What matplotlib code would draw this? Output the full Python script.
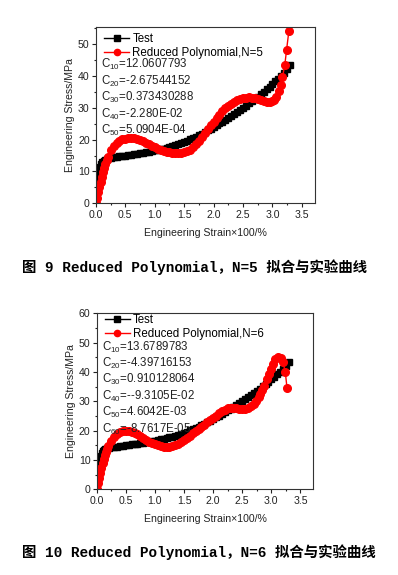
import numpy as np
import matplotlib
matplotlib.use('Agg')
import matplotlib.pyplot as plt
from matplotlib.ticker import AutoMinorLocator, MultipleLocator

# test data (same curve on both figures)
test_x = [0.00, 0.01, 0.02, 0.03, 0.04, 0.05, 0.07, 0.09, 0.11, 0.13, 0.15, 0.18, 0.21, 0.25,
          0.30, 0.35, 0.40, 0.45, 0.50, 0.55, 0.60, 0.65, 0.70, 0.75, 0.80, 0.85, 0.90, 0.95,
          1.00, 1.05, 1.10, 1.15, 1.20, 1.25, 1.30, 1.35, 1.40, 1.45, 1.50, 1.55, 1.60, 1.65,
          1.70, 1.75, 1.80, 1.85, 1.90, 1.95, 2.00, 2.05, 2.10, 2.15, 2.20, 2.25, 2.30, 2.35,
          2.40, 2.45, 2.50, 2.55, 2.60, 2.65, 2.70, 2.75, 2.80, 2.85, 2.90, 2.95, 3.00, 3.05,
          3.10, 3.15, 3.20, 3.25, 3.30]
test_y = [4.3, 5.8, 7.2, 8.4, 9.4, 10.2, 11.4, 12.3, 12.9, 13.4, 13.7, 14.0, 14.2, 14.35,
          14.5, 14.6, 14.75, 14.9, 15.0, 15.15, 15.3, 15.45, 15.6, 15.75, 15.9, 16.05, 16.2, 16.4,
          16.6, 16.8, 17.0, 17.2, 17.45, 17.7, 18.0, 18.3, 18.6, 18.95, 19.3, 19.7, 20.1, 20.5,
          20.95, 21.4, 21.9, 22.4, 22.9, 23.45, 24.0, 24.55, 25.1, 25.7, 26.3, 26.9, 27.5, 28.1,
          28.75, 29.4, 30.05, 30.7, 31.4, 32.1, 32.8, 33.55, 34.3, 35.1, 35.9, 36.7, 37.5, 38.35,
          39.2, 40.1, 41.1, 42.2, 43.4]

# Reduced Polynomial N=5
n5_x = [0.00, 0.02, 0.04, 0.06, 0.08, 0.10, 0.12, 0.14, 0.16, 0.18, 0.20, 0.25, 0.30, 0.35,
        0.40, 0.45, 0.50, 0.55, 0.60, 0.65, 0.70, 0.75, 0.80, 0.85, 0.90, 0.95, 1.00, 1.05,
        1.10, 1.15, 1.20, 1.25, 1.30, 1.35, 1.40, 1.45, 1.50, 1.55, 1.60, 1.65, 1.70, 1.75,
        1.80, 1.85, 1.90, 1.95, 2.00, 2.05, 2.10, 2.15, 2.20, 2.25, 2.30, 2.35, 2.40, 2.45,
        2.50, 2.55, 2.60, 2.65, 2.70, 2.75, 2.80, 2.85, 2.90, 2.95, 2.99, 3.02, 3.06, 3.11,
        3.15, 3.17, 3.21, 3.24, 3.28]
n5_y = [0.0, 1.8, 3.6, 5.2, 6.8, 8.3, 9.8, 11.2, 12.5, 13.7, 14.7, 16.7, 18.0, 19.0,
        19.7, 20.1, 20.35, 20.45, 20.45, 20.4, 20.2, 19.9, 19.5, 19.1, 18.6, 18.1, 17.6, 17.2,
        16.8, 16.45, 16.2, 16.0, 15.85, 15.75, 15.75, 15.85, 16.05, 16.4, 16.9, 17.6, 18.6, 19.7,
        20.8, 22.0, 23.3, 24.5, 25.7, 26.8, 27.9, 28.9, 29.8, 30.6, 31.3, 31.9, 32.4, 32.8,
        33.1, 33.25, 33.3, 33.2, 33.0, 32.7, 32.4, 32.1, 31.95, 31.9, 32.1, 32.6, 33.5, 35.2,
        37.2, 39.6, 43.5, 48.2, 54.3]

# Reduced Polynomial N=6
n6_x = [0.00, 0.02, 0.04, 0.06, 0.08, 0.10, 0.12, 0.14, 0.16, 0.18, 0.20, 0.25, 0.30, 0.35,
        0.40, 0.45, 0.50, 0.55, 0.60, 0.65, 0.70, 0.75, 0.80, 0.85, 0.90, 0.95, 1.00, 1.05,
        1.10, 1.15, 1.20, 1.25, 1.30, 1.35, 1.40, 1.45, 1.50, 1.55, 1.60, 1.65, 1.70, 1.75,
        1.80, 1.85, 1.90, 1.95, 2.00, 2.05, 2.10, 2.15, 2.20, 2.25, 2.30, 2.35, 2.40, 2.45,
        2.50, 2.55, 2.60, 2.65, 2.70, 2.74, 2.78, 2.81, 2.84, 2.87, 2.92, 2.96, 2.99, 3.03,
        3.07, 3.12, 3.16, 3.20, 3.24, 3.27]
n6_y = [0.0, 2.0, 3.8, 5.6, 7.3, 8.9, 10.3, 11.6, 12.8, 13.9, 14.8, 16.6, 17.9, 18.8,
        19.4, 19.75, 19.9, 19.85, 19.6, 19.3, 18.8, 18.2, 17.5, 16.9, 16.3, 15.8, 15.4, 15.0,
        14.75, 14.55, 14.5, 14.55, 14.75, 15.1, 15.6, 16.2, 16.9, 17.6, 18.3, 19.1, 19.9, 20.6,
        21.3, 22.0, 22.8, 23.6, 24.3, 25.1, 25.9, 26.6, 27.2, 27.6, 27.8, 27.75, 27.6, 27.45,
        27.35, 27.45, 27.8, 28.3, 29.2, 30.2, 31.4, 32.6, 34.0, 35.4, 37.5, 39.4, 41.1, 42.8,
        44.3, 45.0, 44.7, 43.4, 40.0, 34.5]

coef5 = [('10', '12.0607793'), ('20', '-2.67544152'), ('30', '0.373430288'),
         ('40', '-2.280E-02'), ('50', '5.0904E-04')]
coef6 = [('10', '13.6789783'), ('20', '-4.39716153'), ('30', '0.910128064'),
         ('40', '--9.3105E-02'), ('50', '4.6042E-03'), ('60', '-8.7617E-05')]

plt.rcParams['font.family'] = ['Liberation Sans', 'DejaVu Sans']
plt.rcParams['mathtext.default'] = 'regular'

fig = plt.figure(figsize=(3.98, 5.75), dpi=100)
ax1 = fig.add_axes([0.241, 0.6464, 0.550, 0.3066])
ax2 = fig.add_axes([0.243, 0.149, 0.544, 0.306])


def draw(ax, fx, fy, n, coefs, ymax, ytop_test, y_coef0):
    ax.plot(test_x, test_y, '-s', color='black', ms=5, lw=1, label='Test')
    ax.plot(fx, fy, '-o', color='red', ms=5.5, lw=1, label='Reduced Polynomial,N=%d' % n)
    ax.set_xlim(0, 3.72)
    ax.set_ylim(0, ymax)
    ax.xaxis.set_major_locator(MultipleLocator(0.5))
    ax.xaxis.set_minor_locator(AutoMinorLocator(2))
    ax.yaxis.set_major_locator(MultipleLocator(10))
    ax.yaxis.set_minor_locator(AutoMinorLocator(2))
    ax.xaxis.set_major_formatter(plt.FormatStrFormatter('%.1f'))
    ax.tick_params(which='major', direction='out', length=3, width=0.8, labelsize=7.6,
                   pad=1.5, colors='#222222')
    ax.tick_params(which='minor', direction='out', length=1.5, width=0.8, colors='#222222')
    for s in ax.spines.values():
        s.set_linewidth(0.8)
        s.set_color('#333333')
    ax.set_xlabel('Engineering Strain×100/%', fontsize=7.6, color='#222222', labelpad=6)
    ax.set_ylabel('Engineering Stress/MPa', fontsize=7.6, color='#222222', labelpad=2)
    leg = ax.legend(loc='upper left', bbox_to_anchor=(0.037, ytop_test), frameon=False,
                    fontsize=8.3, numpoints=1, handlelength=2.2, handletextpad=0.25,
                    labelspacing=0.2, borderaxespad=0.0, borderpad=0.0)
    for h in leg.legend_handles:
        h.set_markersize(4.5)
    for i, (k, v) in enumerate(coefs):
        ax.text(0.023, y_coef0 - i * 0.0935, 'C$_{%s}$=%s' % (k, v), transform=ax.transAxes,
                fontsize=8.3, va='center', ha='left', color='#222222')


draw(ax1, n5_x, n5_y, 5, coef5, 55.4, 0.967, 0.785)
draw(ax2, n6_x, n6_y, 6, coef6, 60, 0.996, 0.809)

cap_font = ['Liberation Mono', 'Noto Sans CJK SC']
fig.text(0.0545, 0.5357, '图 9 Reduced Polynomial，N=5 拟合与实验曲线', family=cap_font,
         fontsize=10.4, fontweight='bold', ha='left', va='center')
fig.text(0.0545, 0.0405, '图 10 Reduced Polynomial，N=6 拟合与实验曲线', family=cap_font,
         fontsize=10.4, fontweight='bold', ha='left', va='center')

fig.savefig('out.png', dpi=100)
